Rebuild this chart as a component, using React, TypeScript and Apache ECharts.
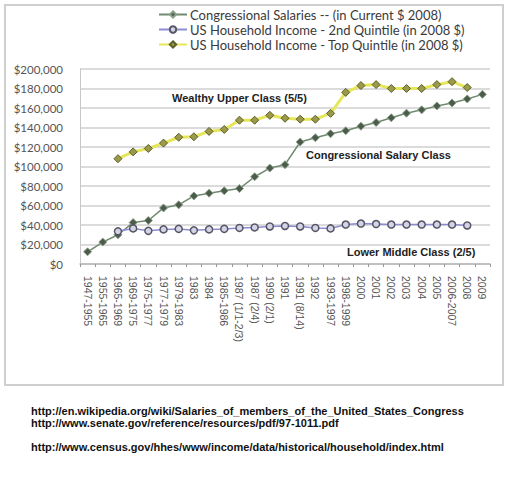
import React, { useEffect, useRef } from 'react'
import * as echarts from 'echarts'

const periods = [
  '1947-1955', '1955-1965', '1965-1969', '1969-1975', '1975-1977', '1977-1979',
  '1979-1983', '1983', '1984', '1985-1986', '1987 (1/1-2/3)', '1987 (2/4)',
  '1990 (2/1)', '1991', '1991 (8/14)', '1992', '1993-1997', '1998-1999',
  '2000', '2001', '2002', '2003', '2004', '2005', '2006-2007', '2008', '2009'
]

const congressSalary = [
  12500, 22500, 30000, 42500, 44600, 57500, 60662, 69800, 72600, 75100, 77400, 89500,
  98400, 101900, 125100, 129500, 133600, 136700, 141300, 145100, 150000, 154700,
  158100, 162100, 165200, 169300, 174000
]

const secondQuintile = [
  null, null, 33500, 36500, 34000, 35500, 36000, 34500, 35500, 36000, 37000, 37500,
  38500, 39000, 38500, 37000, 36500, 40500, 41500, 41000, 40500, 40500, 40500,
  40500, 40500, 39500, null
]

const topQuintile = [
  null, null, 108000, 115000, 118500, 124000, 130000, 130500, 136000, 138000, 147500,
  147500, 152500, 149500, 148500, 148500, 154500, 176000, 183000, 184000, 180000,
  180000, 180000, 184000, 187000, 181000, null
]

const seriesNames = [
  'Congressional Salaries -- (in Current $ 2008)',
  'US Household Income - 2nd Quintile (in 2008 $)',
  'US Household Income - Top Quintile (in 2008 $)'
]

const classLabels = ['Wealthy Upper Class (5/5)', 'Congressional Salary Class', 'Lower Middle Class (2/5)']

const sourceLinks = [
  'http://en.wikipedia.org/wiki/Salaries_of_members_of_the_United_States_Congress',
  'http://www.senate.gov/reference/resources/pdf/97-1011.pdf',
  'http://www.census.gov/hhes/www/income/data/historical/household/index.html'
]

const App: React.FC = () => {
  const chartRef = useRef<HTMLDivElement>(null)

  useEffect(() => {
    if (!chartRef.current) return
    const chart = echarts.init(chartRef.current, null, { renderer: 'svg' })

    const labelFont = { fontFamily: 'Liberation Sans', fontWeight: 'bold' as const, fontSize: 11, fill: '#222' }
    const linkFont = { ...labelFont, fontSize: 11, fill: '#111' }

    const option: echarts.EChartsOption = {
      animation: false,
      backgroundColor: '#fff',
      textStyle: { fontFamily: 'Lato' },
      legend: {
        orient: 'vertical',
        left: 153,
        top: 3,
        itemGap: 2,
        itemWidth: 28,
        itemHeight: 8,
        textStyle: { fontSize: 13, color: '#3a3a3a', fontFamily: 'Lato', padding: [0, 0, 0, -2] },
        data: seriesNames
      },
      grid: { left: 80, right: 19, top: 69, bottom: 216 },
      xAxis: {
        type: 'category',
        data: periods,
        boundaryGap: true,
        axisLine: { lineStyle: { color: '#b8b8b8', width: 1.5 } },
        axisTick: { show: true, length: 3, lineStyle: { color: '#999' } },
        axisLabel: { rotate: -90, interval: 0, fontSize: 10.5, color: '#555', margin: 12, fontFamily: 'Liberation Sans' }
      },
      yAxis: {
        type: 'value',
        min: 0,
        max: 200000,
        interval: 20000,
        axisLine: { show: true, lineStyle: { color: '#c8c8c8', width: 1 } },
        axisTick: { show: false },
        splitLine: { lineStyle: { color: '#cfcfcf', width: 1.5 } },
        axisLabel: {
          fontSize: 11.5,
          color: '#555',
          margin: 17,
          formatter: (v: number) => '$' + v.toLocaleString('en-US')
        }
      },
      series: [
        {
          name: seriesNames[0],
          type: 'line',
          data: congressSalary,
          symbol: 'diamond',
          symbolSize: 8,
          lineStyle: { color: '#6f8a6f', width: 1.5 },
          itemStyle: { color: '#4b5c4b', borderColor: '#8da08d', borderWidth: 1 }
        },
        {
          name: seriesNames[1],
          type: 'line',
          data: secondQuintile,
          symbol: 'circle',
          symbolSize: 7,
          lineStyle: { color: '#8c8cd4', width: 1.5 },
          itemStyle: { color: '#d4d4e6', borderColor: '#555566', borderWidth: 1.5 }
        },
        {
          name: seriesNames[2],
          type: 'line',
          data: topQuintile,
          symbol: 'diamond',
          symbolSize: 8,
          lineStyle: { color: '#e6e65a', width: 3 },
          itemStyle: { color: '#9a9a48', borderColor: '#5e5e2a', borderWidth: 1 }
        }
      ],
      graphic: [
        {
          type: 'rect',
          silent: true,
          z: -1,
          shape: { x: 5, y: 5, width: 498, height: 380 },
          style: { fill: 'none', stroke: '#cfcfcf', lineWidth: 2 }
        },
        { type: 'text', x: 172, y: 92, style: { ...labelFont, text: classLabels[0] } },
        { type: 'text', x: 306, y: 149, style: { ...labelFont, text: classLabels[1] } },
        { type: 'text', x: 347, y: 246, style: { ...labelFont, text: classLabels[2] } },
        { type: 'text', x: 31, y: 405, style: { ...linkFont, text: sourceLinks[0] } },
        { type: 'text', x: 31, y: 417, style: { ...linkFont, text: sourceLinks[1] } },
        { type: 'text', x: 31, y: 441, style: { ...linkFont, text: sourceLinks[2] } }
      ]
    }

    chart.setOption(option)
    return () => chart.dispose()
  }, [])

  return (
    <div
      ref={chartRef}
      style={{ position: 'fixed', left: 0, top: 0, width: 509, height: 480 }}
    />
  )
}

export default App
